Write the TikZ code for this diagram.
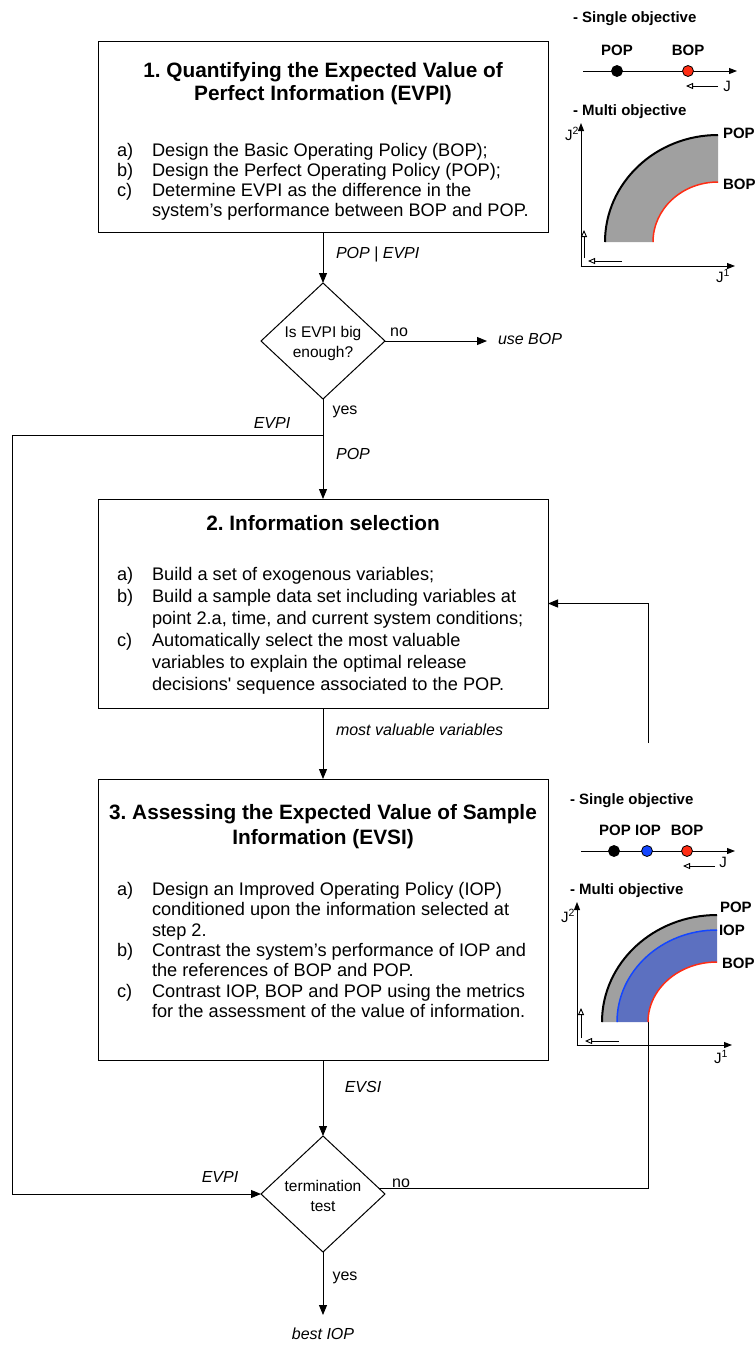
\documentclass[tikz,border=0pt]{standalone}
\usepackage{fontspec}
\setmainfont{Liberation Sans}
\usetikzlibrary{arrows.meta}
\frenchspacing
\newcommand\bodyfont{\fontsize{18.2}{21}\selectfont}
\newcommand\ttlfont{\fontsize{20.8}{24}\selectfont\bfseries}
\newcommand\lblfont{\fontsize{16}{19}\selectfont}
\newcommand\dfont{\fontsize{15.5}{20}\selectfont}
\newcommand\smfont{\fontsize{15}{18}\selectfont}
\definecolor{bandgray}{RGB}{160,160,160}
\definecolor{popred}{RGB}{255,45,20}
\definecolor{iopblue}{RGB}{20,70,255}
\definecolor{bandblue}{RGB}{92,112,192}
\begin{document}
\begin{tikzpicture}[x=1pt,y=-1pt,
  every node/.style={inner sep=0pt, outer sep=0pt},
  boxst/.style={draw, line width=1pt, rectangle, minimum width=450},
  flow/.style={line width=1pt, -{Triangle[length=10pt,width=8pt]}},
  plain/.style={line width=1pt},
  ln/.style={anchor=base west, font=\bodyfont},
  ttl/.style={anchor=base, font=\ttlfont},
  lbl/.style={anchor=base, font=\lblfont},
  lbli/.style={anchor=base, font=\lblfont\itshape},
  dtext/.style={align=center, font=\dfont},
  gtxt/.style={anchor=base, font=\smfont},
  gbold/.style={anchor=base, font=\smfont\bfseries},
  axis/.style={line width=1pt, -{Triangle[length=8pt,width=6pt]}},
  openarr/.style={line width=0.9pt, -{Triangle[open,length=7pt,width=6pt]}},
  dot/.style={circle, draw=black, line width=0.8pt, minimum size=11pt}
]
\useasboundingbox (0,0) rectangle (755,1345);

% ---------------- Box 1 ----------------
\node[boxst, minimum height=191] (b1) at (323,136.5) {};
\node[ttl] (b1t1) at (323,77) {1. Quantifying the Expected Value of};
\node[ttl] (b1t2) at (323,100) {Perfect Information (EVPI)};
\node[ln] (b1a) at (117,156) {a)};
\node[ln] (b1at) at (152,156) {Design the Basic Operating Policy (BOP);};
\node[ln] (b1b) at (117,176) {b)};
\node[ln] (b1bt) at (152,176) {Design the Perfect Operating Policy (POP);};
\node[ln] (b1c) at (117,196) {c)};
\node[ln] (b1ct) at (152,196) {Determine EVPI as the difference in the};
\node[ln] (b1ct2) at (152,216) {system’s performance between BOP and POP.};

% ---------------- Diamond 1 ----------------
\coordinate (d1n) at (323,283);
\coordinate (d1e) at (385,341);
\coordinate (d1s) at (323,399);
\coordinate (d1w) at (261,341);
\draw[plain] (d1n) -- (d1e) -- (d1s) -- (d1w) -- cycle;
\node[dtext] (d1) at (323,343) {Is EVPI big\\enough?};

\draw[flow] (b1.south) -- (d1n);
\node[lbli, anchor=base west] (l1) at (336,258) {POP | EVPI};

\coordinate (ube) at (487,341);
\draw[flow] (d1e) -- (ube);
\node[lbl] (no1) at (399,336) {no};
\node[lbli, anchor=base west] (ub) at (498,344) {use BOP};

% ---------------- Box 2 ----------------
\node[boxst, minimum height=209] (b2) at (323,603.5) {};
\node[ttl] (b2t) at (323,530) {2. Information selection};
\node[ln] (b2a) at (117,580) {a)};
\node[ln] (b2at) at (152,580) {Build a set of exogenous variables;};
\node[ln] (b2b) at (117,602) {b)};
\node[ln] (b2bt) at (152,602) {Build a sample data set including variables at};
\node[ln] (b2bt2) at (152,624) {point 2.a, time, and current system conditions;};
\node[ln] (b2c) at (117,646) {c)};
\node[ln] (b2ct) at (152,646) {Automatically select the most valuable};
\node[ln] (b2ct2) at (152,668) {variables to explain the optimal release};
\node[ln] (b2ct3) at (152,690) {decisions\textquotesingle{} sequence associated to the POP.};

\coordinate (j1) at (323,435);
\coordinate (j1w) at (12,435);
\draw[flow] (d1s) -- (b2.north);
\node[lbl] (yes1) at (345,414) {yes};
\node[lbli] (ev1) at (272,428) {EVPI};
\node[lbli] (pop1) at (353,459) {POP};

% feedback arrow into box 2
\coordinate (fb1) at (648,743);
\draw[flow] (fb1) |- (b2.east);

% ---------------- Box 3 ----------------
\node[boxst, minimum height=281] (b3) at (323,919.5) {};
\draw[flow] (b2.south) -- (b3.north);
\node[lbli, anchor=base west] (mvv) at (336,735) {most valuable variables};
\node[ttl] (b3t1) at (323,819) {3. Assessing the Expected Value of Sample};
\node[ttl] (b3t2) at (323,844) {Information (EVSI)};
\node[ln] (b3a) at (117,895) {a)};
\node[ln] (b3at) at (152,895) {Design an Improved Operating Policy (IOP)};
\node[ln] (b3at2) at (152,915) {conditioned upon the information selected at};
\node[ln] (b3at3) at (152,936) {step 2.};
\node[ln] (b3b) at (117,956) {b)};
\node[ln] (b3bt) at (152,956) {Contrast the system’s performance of IOP and};
\node[ln] (b3bt2) at (152,976) {the references of BOP and POP.};
\node[ln] (b3c) at (117,997) {c)};
\node[ln] (b3ct) at (152,997) {Contrast IOP, BOP and POP using the metrics};
\node[ln] (b3ct2) at (152,1017) {for the assessment of the value of information.};

% ---------------- Diamond 2 ----------------
\coordinate (d2n) at (323,1136);
\coordinate (d2e) at (385,1194);
\coordinate (d2s) at (323,1252);
\coordinate (d2w) at (261,1194);
\draw[plain] (d2n) -- (d2e) -- (d2s) -- (d2w) -- cycle;
\node[dtext] (d2) at (323,1196) {termination\\test};

\draw[flow] (b3.south) -- (d2n);
\node[lbli] (evsi) at (363,1092) {EVSI};

\draw[flow] (j1) -- (j1w) |- (d2w);
\node[lbli] (ev2) at (220,1182) {EVPI};

\coordinate (d2no) at (379,1188.4);
\coordinate (fb2) at (648,1004);
\draw[plain] (d2no) -| (fb2);
\node[lbl] (no2) at (401,1187) {no};

\coordinate (bie) at (323,1315);
\draw[flow] (d2s) -- (bie);
\node[lbl] (yes2) at (345,1280) {yes};
\node[lbli] (bestiop) at (323,1339) {best IOP};

% ---------------- Graph 1 (top right) ----------------
\node[gbold, anchor=base west] (g1s) at (573,22) {- Single objective};
\node[gbold] (g1pop) at (617,55) {POP};
\node[gbold] (g1bop) at (688,55) {BOP};
\draw[axis] (583,71) -- (737,71);
\node[dot, fill=black] (g1d1) at (617,71) {};
\node[dot, fill=popred] (g1d2) at (688,71) {};
\draw[openarr] (718,86) -- (686,86);
\node[gtxt] (g1j) at (727,91) {J};
\node[gbold, anchor=base west] (g1m) at (573,115) {- Multi objective};
\fill[bandgray] (605,242) arc[start angle=180,end angle=270,x radius=113,y radius=107]
  -- (718,182) arc[start angle=270,end angle=180,x radius=65,y radius=60] -- cycle;
\draw[line width=2pt] (605,242) arc[start angle=180,end angle=270,x radius=113,y radius=107];
\draw[line width=1.5pt, popred] (653,242) arc[start angle=180,end angle=270,x radius=65,y radius=60];
\draw[axis] (581,266) -- (581,123);
\draw[axis] (580.5,266) -- (735,266);
\node[gtxt] (g1j2) at (572,140) {J\textsuperscript{2}};
\node[gtxt] (g1j1) at (723,282) {J\textsuperscript{1}};
\node[gbold, anchor=base west] (g1lp) at (723,138) {POP};
\node[gbold, anchor=base west] (g1lb) at (723,189) {BOP};
\draw[openarr] (584,258) -- (584,230);
\draw[openarr] (622,261) -- (588,261);

% ---------------- Graph 2 (bottom right) ----------------
\node[gbold, anchor=base west] (g2s) at (570,804) {- Single objective};
\node[gbold] (g2pop) at (615,835) {POP};
\node[gbold] (g2iop) at (648,835) {IOP};
\node[gbold] (g2bop) at (687,835) {BOP};
\draw[axis] (581,851) -- (735,851);
\node[dot, fill=black] (g2d1) at (614,851) {};
\node[dot, fill=iopblue] (g2d2) at (647,851) {};
\node[dot, fill=popred] (g2d3) at (687,851) {};
\draw[openarr] (715,866) -- (683,866);
\node[gtxt] (g2j) at (723,867) {J};
\node[gbold, anchor=base west] (g2m) at (570,894) {- Multi objective};
\fill[bandgray] (602,1022) arc[start angle=180,end angle=270,x radius=115,y radius=107]
  -- (717,930) arc[start angle=270,end angle=180,x radius=100,y radius=92] -- cycle;
\fill[bandblue] (617,1022) arc[start angle=180,end angle=270,x radius=100,y radius=92]
  -- (717,962) arc[start angle=270,end angle=180,x radius=69,y radius=60] -- cycle;
\draw[line width=2pt] (602,1022) arc[start angle=180,end angle=270,x radius=115,y radius=107];
\draw[line width=1.5pt, iopblue] (617,1022) arc[start angle=180,end angle=270,x radius=100,y radius=92];
\draw[line width=1.5pt, popred] (648,1022) arc[start angle=180,end angle=270,x radius=69,y radius=60];
\draw[axis] (577,1045) -- (577,902);
\draw[axis] (576.5,1045) -- (732,1045);
\node[gtxt] (g2j2) at (568,922) {J\textsuperscript{2}};
\node[gtxt] (g2j1) at (721,1063) {J\textsuperscript{1}};
\node[gbold, anchor=base west] (g2lp) at (720,912) {POP};
\node[gbold, anchor=base west] (g2li) at (719,935) {IOP};
\node[gbold, anchor=base west] (g2lb) at (722,968) {BOP};
\draw[openarr] (581,1038) -- (581,1008);
\draw[openarr] (619,1041) -- (585,1041);
\end{tikzpicture}
\end{document}
